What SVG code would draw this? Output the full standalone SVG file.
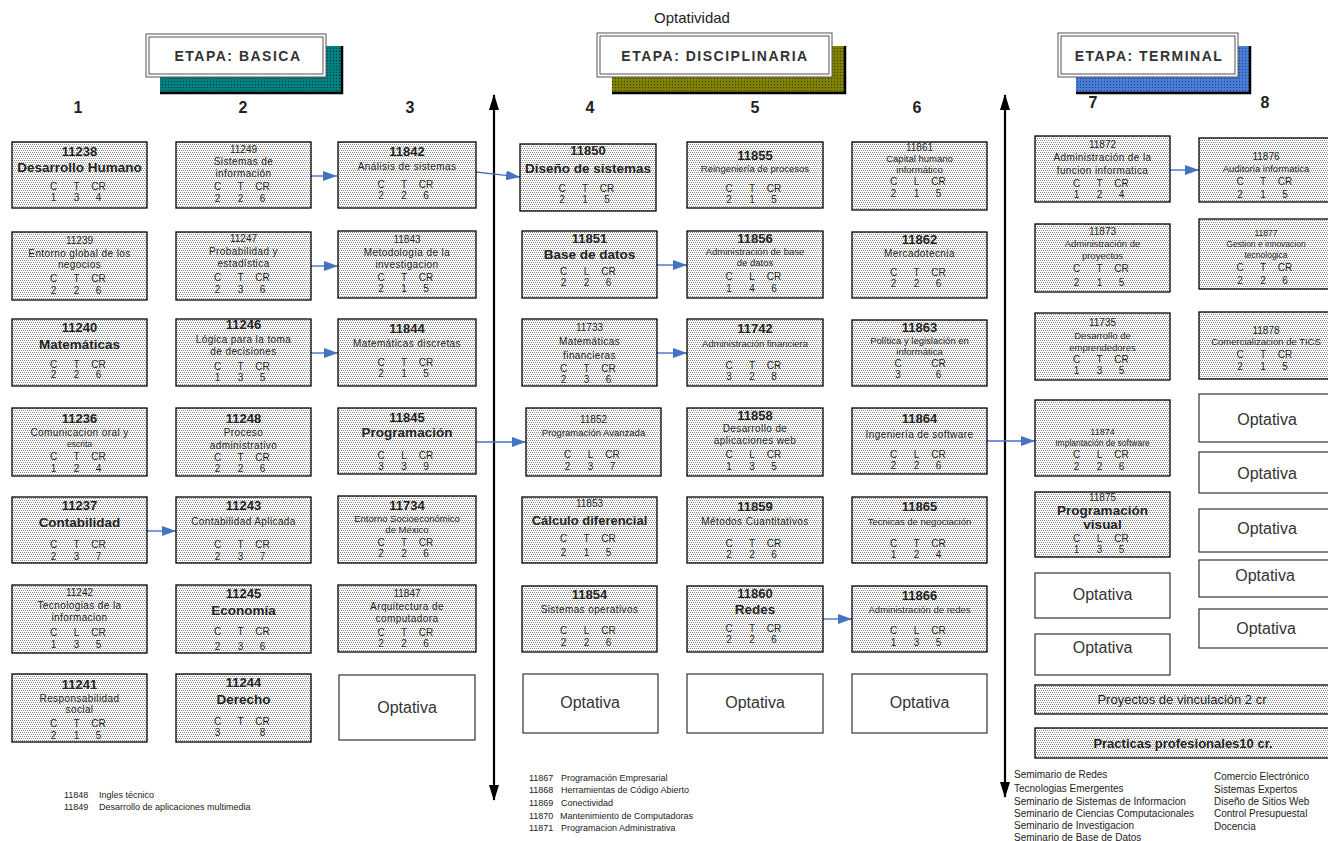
<svg xmlns="http://www.w3.org/2000/svg" width="1328" height="841" viewBox="0 0 1328 841">
<defs>
<pattern id="dots" width="4" height="4" patternUnits="userSpaceOnUse"><rect width="4" height="4" fill="#fff"/><rect x="0" y="0" width="1" height="1" fill="#8a8a8a"/><rect x="2" y="0" width="1" height="1" fill="#8a8a8a"/><rect x="1" y="2" width="1" height="1" fill="#8a8a8a"/><rect x="3" y="2" width="1" height="1" fill="#8a8a8a"/></pattern>
<pattern id="pTeal" width="3" height="3" patternUnits="userSpaceOnUse"><rect width="3" height="3" fill="#008080"/><rect width="1" height="1" fill="#003a3a"/></pattern>
<pattern id="pOlive" width="3" height="3" patternUnits="userSpaceOnUse"><rect width="3" height="3" fill="#808000"/><rect width="1" height="1" fill="#3a3a00"/></pattern>
<pattern id="pBlue" width="3" height="3" patternUnits="userSpaceOnUse"><rect width="3" height="3" fill="#4a7cd6"/><rect width="1" height="1" fill="#1c3c80"/></pattern>
<marker id="ah" viewBox="0 0 14 10" refX="14" refY="5" markerWidth="14" markerHeight="10" markerUnits="userSpaceOnUse" orient="auto"><path d="M0,0 L14,5 L0,10 z" fill="#4472c4"/></marker>
<marker id="ax" viewBox="0 0 16 10" refX="15" refY="5" markerWidth="16" markerHeight="10" markerUnits="userSpaceOnUse" orient="auto-start-reverse"><path d="M0,0 L16,5 L0,10 z" fill="#000"/></marker>
</defs>
<style>
text{font-family:"Liberation Sans",Arial,sans-serif;fill:#222;text-anchor:middle}
.b{fill:url(#dots);stroke:#000;stroke-width:1.3}
.o{fill:#fff;stroke:#333;stroke-width:1.2}
.k{font-size:13px;font-weight:bold}
.ks{font-size:10px}
.n{font-size:10px;letter-spacing:0.4px}
.ns{font-size:9.5px}
.nb{font-size:13.5px;font-weight:bold}
.h{font-size:10px}
.op{font-size:16px;fill:#333}
.num{font-size:16px;font-weight:bold}
.et{font-size:14px;font-weight:bold;fill:#333;letter-spacing:1.5px}
.ft{font-size:9px;text-anchor:start}
.fr{font-size:10px;text-anchor:start}
.conn{stroke:#4472c4;stroke-width:1.4;fill:none;marker-end:url(#ah)}
.axis{stroke:#000;stroke-width:2.2;fill:none;marker-start:url(#ax);marker-end:url(#ax)}
.shb{stroke:#000;stroke-width:2.5}
.hb{fill:#fff;stroke:#555;stroke-width:1}
</style>
<rect width="1328" height="841" fill="#fff"/>

<g id="headers">
<text x="692" y="23" style="font-size:15px;fill:#222">Optatividad</text>
<rect x="160" y="46" width="182" height="47" fill="url(#pTeal)"/>
<path class="shb" d="M342,46 V93 H160" fill="none"/>
<rect class="hb" x="146" y="34" width="180" height="43"/>
<rect class="hb" x="149" y="37" width="174" height="37"/>
<text class="et" x="238" y="61">ETAPA: BASICA</text>
<rect x="612" y="46" width="233" height="47" fill="url(#pOlive)"/>
<path class="shb" d="M845,46 V93 H612" fill="none"/>
<rect class="hb" x="597" y="33" width="235" height="44"/>
<rect class="hb" x="600" y="36" width="229" height="38"/>
<text class="et" x="715" y="61">ETAPA: DISCIPLINARIA</text>
<rect x="1076" y="46" width="174" height="47" fill="url(#pBlue)"/>
<path class="shb" d="M1250,46 V93 H1076" fill="none"/>
<rect class="hb" x="1058" y="33" width="180" height="44"/>
<rect class="hb" x="1061" y="36" width="174" height="38"/>
<text class="et" x="1149" y="61">ETAPA: TERMINAL</text>
<text class="num" x="78" y="113">1</text>
<text class="num" x="243" y="113">2</text>
<text class="num" x="410" y="113">3</text>
<text class="num" x="590" y="113">4</text>
<text class="num" x="755" y="113">5</text>
<text class="num" x="917" y="113">6</text>
<text class="num" x="1093" y="108">7</text>
<text class="num" x="1265" y="108">8</text>
</g>

<g id="connectors">
<line class="axis" x1="494" y1="95" x2="494" y2="800"/>
<line class="axis" x1="1005" y1="95" x2="1005" y2="797"/>
<path class="conn" d="M311,176 H337"/>
<path class="conn" d="M311,266 H338"/>
<path class="conn" d="M311,353 H338"/>
<path class="conn" d="M147,531 H176"/>
<path class="conn" d="M476,172 L520,177"/>
<path class="conn" d="M476,442 H526"/>
<path class="conn" d="M657,265 H687"/>
<path class="conn" d="M657,353 H687"/>
<path class="conn" d="M823,619 H852"/>
<path class="conn" d="M987,441 H1035"/>
<path class="conn" d="M1170,170 H1199"/>
</g>

<!-- Column 1 -->
<g id="n11238"><rect class="b" x="12" y="142" width="135" height="66"/><text class="k" x="79.5" y="156">11238</text><text class="nb" x="79.5" y="172">Desarrollo Humano</text><text class="h" y="190"><tspan x="53.5">C</tspan><tspan x="76.5">T</tspan><tspan x="98.5">CR</tspan></text><text class="h" y="201"><tspan x="53.5">1</tspan><tspan x="76.5">3</tspan><tspan x="98.5">4</tspan></text></g>
<g id="n11239"><rect class="b" x="12" y="232" width="135" height="68"/><text class="ks" x="79.5" y="244">11239</text><text class="n" x="79.5" y="257">Entorno global de los</text><text class="n" x="79.5" y="268">negocios</text><text class="h" y="282"><tspan x="53.5">C</tspan><tspan x="76.5">T</tspan><tspan x="98.5">CR</tspan></text><text class="h" y="294"><tspan x="53.5">2</tspan><tspan x="76.5">2</tspan><tspan x="98.5">6</tspan></text></g>
<g id="n11240"><rect class="b" x="12" y="319" width="135" height="67"/><text class="k" x="79.5" y="332">11240</text><text class="nb" x="79.5" y="349">Matemáticas</text><text class="h" y="368"><tspan x="53.5">C</tspan><tspan x="76.5">T</tspan><tspan x="98.5">CR</tspan></text><text class="h" y="378"><tspan x="53.5">2</tspan><tspan x="76.5">2</tspan><tspan x="98.5">6</tspan></text></g>
<g id="n11236"><rect class="b" x="12" y="408" width="135" height="68"/><text class="k" x="79.5" y="423">11236</text><text class="n" x="79.5" y="436">Comunicacion oral y</text><text class="ks" x="79.5" y="447" style="font-size:8.5px">escrita</text><text class="h" y="460"><tspan x="53.5">C</tspan><tspan x="76.5">T</tspan><tspan x="98.5">CR</tspan></text><text class="h" y="472"><tspan x="53.5">1</tspan><tspan x="76.5">2</tspan><tspan x="98.5">4</tspan></text></g>
<g id="n11237"><rect class="b" x="12" y="497" width="135" height="66"/><text class="k" x="79.5" y="510">11237</text><text class="nb" x="79.5" y="527">Contabilidad</text><text class="h" y="548"><tspan x="53.5">C</tspan><tspan x="76.5">T</tspan><tspan x="98.5">CR</tspan></text><text class="h" y="560"><tspan x="53.5">2</tspan><tspan x="76.5">3</tspan><tspan x="98.5">7</tspan></text></g>
<g id="n11242"><rect class="b" x="12" y="585" width="135" height="68"/><text class="ks" x="79.5" y="596">11242</text><text class="n" x="79.5" y="609">Tecnologias de la</text><text class="n" x="79.5" y="621">informacion</text><text class="h" y="636"><tspan x="53.5">C</tspan><tspan x="76.5">L</tspan><tspan x="98.5">CR</tspan></text><text class="h" y="648"><tspan x="53.5">1</tspan><tspan x="76.5">3</tspan><tspan x="98.5">5</tspan></text></g>
<g id="n11241"><rect class="b" x="12" y="674" width="135" height="68"/><text class="k" x="79.5" y="689">11241</text><text class="n" x="79.5" y="702">Responsabilidad</text><text class="n" x="79.5" y="713">social</text><text class="h" y="727"><tspan x="53.5">C</tspan><tspan x="76.5">T</tspan><tspan x="98.5">CR</tspan></text><text class="h" y="739"><tspan x="53.5">2</tspan><tspan x="76.5">1</tspan><tspan x="98.5">5</tspan></text></g>

<!-- Column 2 -->
<g id="n11249"><rect class="b" x="176" y="142" width="135" height="66"/><text class="ks" x="243.5" y="153">11249</text><text class="n" x="243.5" y="165">Sistemas de</text><text class="n" x="243.5" y="177">información</text><text class="h" y="190"><tspan x="217.5">C</tspan><tspan x="240.5">T</tspan><tspan x="262.5">CR</tspan></text><text class="h" y="202"><tspan x="217.5">2</tspan><tspan x="240.5">2</tspan><tspan x="262.5">6</tspan></text></g>
<g id="n11247"><rect class="b" x="176" y="232" width="135" height="68"/><text class="ks" x="243.5" y="242">11247</text><text class="n" x="243.5" y="255">Probabilidad y</text><text class="n" x="243.5" y="267">estadística</text><text class="h" y="281"><tspan x="217.5">C</tspan><tspan x="240.5">T</tspan><tspan x="262.5">CR</tspan></text><text class="h" y="293"><tspan x="217.5">2</tspan><tspan x="240.5">3</tspan><tspan x="262.5">6</tspan></text></g>
<g id="n11246"><rect class="b" x="176" y="319" width="135" height="67"/><text class="k" x="243.5" y="329">11246</text><text class="n" x="243.5" y="343">Lógica para la toma</text><text class="n" x="243.5" y="355">de decisiones</text><text class="h" y="370"><tspan x="217.5">C</tspan><tspan x="240.5">T</tspan><tspan x="262.5">CR</tspan></text><text class="h" y="381"><tspan x="217.5">1</tspan><tspan x="240.5">3</tspan><tspan x="262.5">5</tspan></text></g>
<g id="n11248"><rect class="b" x="176" y="408" width="135" height="68"/><text class="k" x="243.5" y="423">11248</text><text class="n" x="243.5" y="436">Proceso</text><text class="n" x="243.5" y="449">administrativo</text><text class="h" y="461"><tspan x="217.5">C</tspan><tspan x="240.5">T</tspan><tspan x="262.5">CR</tspan></text><text class="h" y="472"><tspan x="217.5">2</tspan><tspan x="240.5">2</tspan><tspan x="262.5">6</tspan></text></g>
<g id="n11243"><rect class="b" x="176" y="497" width="135" height="66"/><text class="k" x="243.5" y="510">11243</text><text class="n" x="243.5" y="525">Contabilidad Aplicada</text><text class="h" y="548"><tspan x="217.5">C</tspan><tspan x="240.5">T</tspan><tspan x="262.5">CR</tspan></text><text class="h" y="560"><tspan x="217.5">2</tspan><tspan x="240.5">3</tspan><tspan x="262.5">7</tspan></text></g>
<g id="n11245"><rect class="b" x="176" y="585" width="135" height="68"/><text class="k" x="243.5" y="598">11245</text><text class="nb" x="243.5" y="615">Economía</text><text class="h" y="635"><tspan x="217.5">C</tspan><tspan x="240.5">T</tspan><tspan x="262.5">CR</tspan></text><text class="h" y="650"><tspan x="217.5">2</tspan><tspan x="240.5">3</tspan><tspan x="262.5">6</tspan></text></g>
<g id="n11244"><rect class="b" x="176" y="674" width="135" height="68"/><text class="k" x="243.5" y="687">11244</text><text class="nb" x="243.5" y="704">Derecho</text><text class="h" y="725"><tspan x="217.5">C</tspan><tspan x="240.5">T</tspan><tspan x="262.5">CR</tspan></text><text class="h" y="736"><tspan x="217.5">3</tspan><tspan x="262.5">8</tspan></text></g>

<!-- Column 3 -->
<g id="n11842"><rect class="b" x="338" y="142" width="138" height="66"/><text class="k" x="407" y="156">11842</text><text class="n" x="407" y="170">Análisis de sistemas</text><text class="h" y="188"><tspan x="381">C</tspan><tspan x="404">T</tspan><tspan x="426">CR</tspan></text><text class="h" y="199"><tspan x="381">2</tspan><tspan x="404">2</tspan><tspan x="426">6</tspan></text></g>
<g id="n11843"><rect class="b" x="338" y="231" width="138" height="67"/><text class="ks" x="407" y="243">11843</text><text class="n" x="407" y="256">Metodología de la</text><text class="n" x="407" y="268">investigacion</text><text class="h" y="281"><tspan x="381">C</tspan><tspan x="404">T</tspan><tspan x="426">CR</tspan></text><text class="h" y="292"><tspan x="381">2</tspan><tspan x="404">1</tspan><tspan x="426">5</tspan></text></g>
<g id="n11844"><rect class="b" x="338" y="319" width="138" height="67"/><text class="k" x="407" y="333">11844</text><text class="n" x="407" y="347">Matemáticas discretas</text><text class="h" y="366"><tspan x="381">C</tspan><tspan x="404">T</tspan><tspan x="426">CR</tspan></text><text class="h" y="377"><tspan x="381">2</tspan><tspan x="404">1</tspan><tspan x="426">5</tspan></text></g>
<g id="n11845"><rect class="b" x="338" y="408" width="138" height="66"/><text class="k" x="407" y="422">11845</text><text class="nb" x="407" y="437">Programación</text><text class="h" y="459"><tspan x="381">C</tspan><tspan x="404">L</tspan><tspan x="426">CR</tspan></text><text class="h" y="470"><tspan x="381">3</tspan><tspan x="404">3</tspan><tspan x="426">9</tspan></text></g>
<g id="n11734"><rect class="b" x="338" y="496" width="138" height="67"/><text class="k" x="407" y="510">11734</text><text class="ns" x="407" y="522">Entorno Socioeconómico</text><text class="ns" x="407" y="533">de México</text><text class="h" y="546"><tspan x="381">C</tspan><tspan x="404">T</tspan><tspan x="426">CR</tspan></text><text class="h" y="557"><tspan x="381">2</tspan><tspan x="404">2</tspan><tspan x="426">6</tspan></text></g>
<g id="n11847"><rect class="b" x="338" y="585" width="138" height="67"/><text class="ks" x="407" y="597">11847</text><text class="n" x="407" y="610">Arquitectura de</text><text class="n" x="407" y="622">computadora</text><text class="h" y="636"><tspan x="381">C</tspan><tspan x="404">T</tspan><tspan x="426">CR</tspan></text><text class="h" y="647"><tspan x="381">2</tspan><tspan x="404">2</tspan><tspan x="426">6</tspan></text></g>
<g id="opt3"><rect class="o" x="339" y="675" width="136" height="65"/><text class="op" x="407" y="713">Optativa</text></g>

<!-- Column 4 -->
<g id="n11850"><rect class="b" x="520" y="144" width="136" height="67"/><text class="k" x="588" y="155">11850</text><text class="nb" x="588" y="173">Diseño de sistemas</text><text class="h" y="192"><tspan x="562">C</tspan><tspan x="585">T</tspan><tspan x="607">CR</tspan></text><text class="h" y="203"><tspan x="562">2</tspan><tspan x="585">1</tspan><tspan x="607">5</tspan></text></g>
<g id="n11851"><rect class="b" x="522" y="231" width="135" height="67"/><text class="k" x="589.5" y="243">11851</text><text class="nb" x="589.5" y="259">Base de datos</text><text class="h" y="275"><tspan x="563.5">C</tspan><tspan x="586.5">L</tspan><tspan x="608.5">CR</tspan></text><text class="h" y="286"><tspan x="563.5">2</tspan><tspan x="586.5">2</tspan><tspan x="608.5">6</tspan></text></g>
<g id="n11733"><rect class="b" x="522" y="319" width="135" height="67"/><text class="ks" x="589.5" y="331">11733</text><text class="n" x="589.5" y="345">Matemáticas</text><text class="n" x="589.5" y="359">financieras</text><text class="h" y="372"><tspan x="563.5">C</tspan><tspan x="586.5">T</tspan><tspan x="608.5">CR</tspan></text><text class="h" y="383"><tspan x="563.5">2</tspan><tspan x="586.5">3</tspan><tspan x="608.5">6</tspan></text></g>
<g id="n11852"><rect class="b" x="526" y="408" width="135" height="68"/><text class="ks" x="593.5" y="423">11852</text><text class="ns" x="593.5" y="436">Programación Avanzada</text><text class="h" y="458"><tspan x="567.5">C</tspan><tspan x="590.5">L</tspan><tspan x="612.5">CR</tspan></text><text class="h" y="470"><tspan x="567.5">2</tspan><tspan x="590.5">3</tspan><tspan x="612.5">7</tspan></text></g>
<g id="n11853"><rect class="b" x="522" y="497" width="135" height="66"/><text class="ks" x="589.5" y="507">11853</text><text class="nb" x="589.5" y="525" style="font-size:13px">Cálculo diferencial</text><text class="h" y="542"><tspan x="563.5">C</tspan><tspan x="586.5">T</tspan><tspan x="608.5">CR</tspan></text><text class="h" y="556"><tspan x="563.5">2</tspan><tspan x="586.5">1</tspan><tspan x="608.5">5</tspan></text></g>
<g id="n11854"><rect class="b" x="522" y="586" width="135" height="66"/><text class="k" x="589.5" y="599">11854</text><text class="n" x="589.5" y="613">Sistemas operativos</text><text class="h" y="634"><tspan x="563.5">C</tspan><tspan x="586.5">L</tspan><tspan x="608.5">CR</tspan></text><text class="h" y="646"><tspan x="563.5">2</tspan><tspan x="586.5">2</tspan><tspan x="608.5">6</tspan></text></g>
<g id="opt4"><rect class="o" x="523" y="674" width="135" height="59"/><text class="op" x="590" y="708">Optativa</text></g>

<!-- Column 5 -->
<g id="n11855"><rect class="b" x="687" y="142" width="136" height="66"/><text class="k" x="755" y="160">11855</text><text class="ns" x="755" y="172">Reingeniería de procesos</text><text class="h" y="192"><tspan x="729">C</tspan><tspan x="752">T</tspan><tspan x="774">CR</tspan></text><text class="h" y="203"><tspan x="729">2</tspan><tspan x="752">1</tspan><tspan x="774">5</tspan></text></g>
<g id="n11856"><rect class="b" x="687" y="231" width="136" height="67"/><text class="k" x="755" y="243">11856</text><text class="ns" x="755" y="255">Administración de base</text><text class="ns" x="755" y="266">de datos</text><text class="h" y="280"><tspan x="729">C</tspan><tspan x="752">L</tspan><tspan x="774">CR</tspan></text><text class="h" y="292"><tspan x="729">1</tspan><tspan x="752">4</tspan><tspan x="774">6</tspan></text></g>
<g id="n11742"><rect class="b" x="687" y="319" width="136" height="67"/><text class="k" x="755" y="333">11742</text><text class="ns" x="755" y="347">Administración financiera</text><text class="h" y="369"><tspan x="729">C</tspan><tspan x="752">T</tspan><tspan x="774">CR</tspan></text><text class="h" y="380"><tspan x="729">3</tspan><tspan x="752">2</tspan><tspan x="774">8</tspan></text></g>
<g id="n11858"><rect class="b" x="687" y="408" width="136" height="68"/><text class="k" x="755" y="420">11858</text><text class="n" x="755" y="432">Desarrollo de</text><text class="n" x="755" y="444">aplicaciones web</text><text class="h" y="458"><tspan x="729">C</tspan><tspan x="752">L</tspan><tspan x="774">CR</tspan></text><text class="h" y="470"><tspan x="729">1</tspan><tspan x="752">3</tspan><tspan x="774">5</tspan></text></g>
<g id="n11859"><rect class="b" x="687" y="497" width="136" height="66"/><text class="k" x="755" y="511">11859</text><text class="n" x="755" y="525">Métodos Cuantitativos</text><text class="h" y="547"><tspan x="729">C</tspan><tspan x="752">T</tspan><tspan x="774">CR</tspan></text><text class="h" y="558"><tspan x="729">2</tspan><tspan x="752">2</tspan><tspan x="774">6</tspan></text></g>
<g id="n11860"><rect class="b" x="687" y="586" width="136" height="66"/><text class="k" x="755" y="598">11860</text><text class="nb" x="755" y="614">Redes</text><text class="h" y="632"><tspan x="729">C</tspan><tspan x="752">T</tspan><tspan x="774">CR</tspan></text><text class="h" y="643"><tspan x="729">2</tspan><tspan x="752">2</tspan><tspan x="774">6</tspan></text></g>
<g id="opt5"><rect class="o" x="687" y="674" width="136" height="59"/><text class="op" x="755" y="708">Optativa</text></g>

<!-- Column 6 -->
<g id="n11861"><rect class="b" x="852" y="142" width="135" height="68"/><text class="ks" x="919.5" y="151">11861</text><text class="ns" x="919.5" y="162">Capital humano</text><text class="ns" x="919.5" y="173">informático</text><text class="h" y="185"><tspan x="893.5">C</tspan><tspan x="916.5">L</tspan><tspan x="938.5">CR</tspan></text><text class="h" y="197"><tspan x="893.5">2</tspan><tspan x="916.5">1</tspan><tspan x="938.5">5</tspan></text></g>
<g id="n11862"><rect class="b" x="852" y="232" width="135" height="66"/><text class="k" x="919.5" y="244">11862</text><text class="n" x="919.5" y="257">Mercadotecnia</text><text class="h" y="276"><tspan x="893.5">C</tspan><tspan x="916.5">T</tspan><tspan x="938.5">CR</tspan></text><text class="h" y="287"><tspan x="893.5">2</tspan><tspan x="916.5">2</tspan><tspan x="938.5">6</tspan></text></g>
<g id="n11863"><rect class="b" x="852" y="320" width="135" height="66"/><text class="k" x="919.5" y="332">11863</text><text class="ns" x="919.5" y="344">Política y legislación en</text><text class="ns" x="919.5" y="355">informática</text><text class="h" y="367"><tspan x="898">C</tspan><tspan x="938.5">CR</tspan></text><text class="h" y="378"><tspan x="898">3</tspan><tspan x="938.5">6</tspan></text></g>
<g id="n11864"><rect class="b" x="852" y="408" width="135" height="66"/><text class="k" x="919.5" y="423">11864</text><text class="n" x="919.5" y="438">Ingeniería de software</text><text class="h" y="458"><tspan x="893.5">C</tspan><tspan x="916.5">L</tspan><tspan x="938.5">CR</tspan></text><text class="h" y="469"><tspan x="893.5">2</tspan><tspan x="916.5">2</tspan><tspan x="938.5">6</tspan></text></g>
<g id="n11865"><rect class="b" x="852" y="497" width="135" height="66"/><text class="k" x="919.5" y="511">11865</text><text class="ns" x="919.5" y="525">Tecnicas de negociación</text><text class="h" y="547"><tspan x="893.5">C</tspan><tspan x="916.5">T</tspan><tspan x="938.5">CR</tspan></text><text class="h" y="558"><tspan x="893.5">1</tspan><tspan x="916.5">2</tspan><tspan x="938.5">4</tspan></text></g>
<g id="n11866"><rect class="b" x="852" y="586" width="135" height="66"/><text class="k" x="919.5" y="600">11866</text><text class="ns" x="919.5" y="613">Administración de redes</text><text class="h" y="634"><tspan x="893.5">C</tspan><tspan x="916.5">L</tspan><tspan x="938.5">CR</tspan></text><text class="h" y="646"><tspan x="893.5">1</tspan><tspan x="916.5">3</tspan><tspan x="938.5">5</tspan></text></g>
<g id="opt6"><rect class="o" x="852" y="674" width="135" height="59"/><text class="op" x="919.5" y="708">Optativa</text></g>

<!-- Column 7 -->
<g id="n11872"><rect class="b" x="1035" y="136" width="135" height="66"/><text class="ks" x="1102.5" y="148">11872</text><text class="n" x="1102.5" y="161">Administración de la</text><text class="n" x="1102.5" y="174">funcion informatica</text><text class="h" y="187"><tspan x="1076.5">C</tspan><tspan x="1099.5">T</tspan><tspan x="1121.5">CR</tspan></text><text class="h" y="198"><tspan x="1076.5">1</tspan><tspan x="1099.5">2</tspan><tspan x="1121.5">4</tspan></text></g>
<g id="n11873"><rect class="b" x="1035" y="224" width="135" height="68"/><text class="ks" x="1102.5" y="235">11873</text><text class="ns" x="1102.5" y="247">Administración de</text><text class="ns" x="1102.5" y="259">proyectos</text><text class="h" y="272"><tspan x="1076.5">C</tspan><tspan x="1099.5">T</tspan><tspan x="1121.5">CR</tspan></text><text class="h" y="286"><tspan x="1076.5">2</tspan><tspan x="1099.5">1</tspan><tspan x="1121.5">5</tspan></text></g>
<g id="n11735"><rect class="b" x="1035" y="313" width="135" height="67"/><text class="ks" x="1102.5" y="326">11735</text><text class="ns" x="1102.5" y="339">Desarrollo de</text><text class="ns" x="1102.5" y="351">emprendedores</text><text class="h" y="363"><tspan x="1076.5">C</tspan><tspan x="1099.5">T</tspan><tspan x="1121.5">CR</tspan></text><text class="h" y="374"><tspan x="1076.5">1</tspan><tspan x="1099.5">3</tspan><tspan x="1121.5">5</tspan></text></g>
<g id="n11874"><rect class="b" x="1035" y="400" width="135" height="76"/><text class="ks" x="1102.5" y="435" style="font-size:9px">11874</text><text class="ns" x="1102.5" y="446" style="font-size:8.5px">Implantación de software</text><text class="h" y="458"><tspan x="1076.5">C</tspan><tspan x="1099.5">L</tspan><tspan x="1121.5">CR</tspan></text><text class="h" y="470"><tspan x="1076.5">2</tspan><tspan x="1099.5">2</tspan><tspan x="1121.5">6</tspan></text></g>
<g id="n11875"><rect class="b" x="1035" y="492" width="135" height="65"/><text class="ks" x="1102.5" y="501">11875</text><text class="nb" x="1102.5" y="515">Programación</text><text class="nb" x="1102.5" y="529">visual</text><text class="h" y="542"><tspan x="1076.5">C</tspan><tspan x="1099.5">L</tspan><tspan x="1121.5">CR</tspan></text><text class="h" y="553"><tspan x="1076.5">1</tspan><tspan x="1099.5">3</tspan><tspan x="1121.5">5</tspan></text></g>
<g id="opt7a"><rect class="o" x="1035" y="573" width="135" height="45"/><text class="op" x="1102.5" y="600">Optativa</text></g>
<g id="opt7b"><rect class="o" x="1035" y="634" width="135" height="41"/><text class="op" x="1102.5" y="653">Optativa</text></g>

<!-- Column 8 -->
<g id="n11876"><rect class="b" x="1199" y="138" width="136" height="64"/><text class="ks" x="1266" y="160">11876</text><text class="ns" x="1266" y="172">Auditoria informatica</text><text class="h" y="185"><tspan x="1240">C</tspan><tspan x="1263">T</tspan><tspan x="1285">CR</tspan></text><text class="h" y="198"><tspan x="1240">2</tspan><tspan x="1263">1</tspan><tspan x="1285">5</tspan></text></g>
<g id="n11877"><rect class="b" x="1199" y="219" width="136" height="70"/><text class="ks" x="1266" y="236" style="font-size:8.5px">11877</text><text class="ns" x="1266" y="247" style="font-size:8.5px">Gestion e innovacion</text><text class="ns" x="1266" y="258" style="font-size:8.5px">tecnologica</text><text class="h" y="271"><tspan x="1240">C</tspan><tspan x="1263">T</tspan><tspan x="1285">CR</tspan></text><text class="h" y="284"><tspan x="1240">2</tspan><tspan x="1263">2</tspan><tspan x="1285">6</tspan></text></g>
<g id="n11878"><rect class="b" x="1199" y="312" width="136" height="67"/><text class="ks" x="1266" y="334">11878</text><text class="ns" x="1266" y="345">Comercializacion de TICS</text><text class="h" y="358"><tspan x="1240">C</tspan><tspan x="1263">T</tspan><tspan x="1285">CR</tspan></text><text class="h" y="370"><tspan x="1240">2</tspan><tspan x="1263">1</tspan><tspan x="1285">5</tspan></text></g>
<g id="opt8a"><rect class="o" x="1199" y="394" width="136" height="48"/><text class="op" x="1267" y="425">Optativa</text></g>
<g id="opt8b"><rect class="o" x="1199" y="452" width="136" height="41"/><text class="op" x="1267" y="479">Optativa</text></g>
<g id="opt8c"><rect class="o" x="1199" y="509" width="136" height="43"/><text class="op" x="1267" y="534">Optativa</text></g>
<g id="opt8d"><rect class="o" x="1199" y="560" width="136" height="37"/><text class="op" x="1265" y="581">Optativa</text></g>
<g id="opt8e"><rect class="o" x="1199" y="609" width="136" height="39"/><text class="op" x="1266" y="634">Optativa</text></g>

<g id="proyectos"><rect class="b" x="1035" y="685" width="300" height="29"/><text x="1182" y="704" style="font-size:13px">Proyectos de vinculación  2 cr</text></g>
<g id="practicas"><rect class="b" x="1035" y="728" width="300" height="30"/><text x="1183" y="748" style="font-size:13px;font-weight:bold">Practicas profesionales10 cr.</text></g>

<g id="notes">
<text class="ft" x="64" y="798">11848</text><text class="ft" x="99" y="798">Ingles técnico</text>
<text class="ft" x="64" y="810">11849</text><text class="ft" x="99" y="810">Desarrollo de aplicaciones multimedia</text>
<text class="ft" x="529" y="781">11867</text><text class="ft" x="561" y="781">Programación Empresarial</text>
<text class="ft" x="529" y="793">11868</text><text class="ft" x="561" y="793">Herramientas de Código Abierto</text>
<text class="ft" x="529" y="806">11869</text><text class="ft" x="561" y="806">Conectividad</text>
<text class="ft" x="529" y="819">11870</text><text class="ft" x="560" y="819">Mantenimiento de Computadoras</text>
<text class="ft" x="529" y="831">11871</text><text class="ft" x="561" y="831">Programacion Administrativa</text>
<text class="fr" x="1014" y="778">Semimario de Redes</text>
<text class="fr" x="1014" y="792">Tecnologias Emergentes</text>
<text class="fr" x="1014" y="805">Seminario de Sistemas de Informacion</text>
<text class="fr" x="1014" y="817">Seminario de Ciencias Computacionales</text>
<text class="fr" x="1014" y="829">Seminario de Investigacion</text>
<text class="fr" x="1014" y="841">Seminario de Base de Datos</text>
<text class="fr" x="1214" y="780">Comercio Electrónico</text>
<text class="fr" x="1214" y="793">Sistemas Expertos</text>
<text class="fr" x="1214" y="805">Diseño de Sitios Web</text>
<text class="fr" x="1214" y="817">Control Presupuestal</text>
<text class="fr" x="1214" y="830">Docencia</text>
</g>
</svg>
